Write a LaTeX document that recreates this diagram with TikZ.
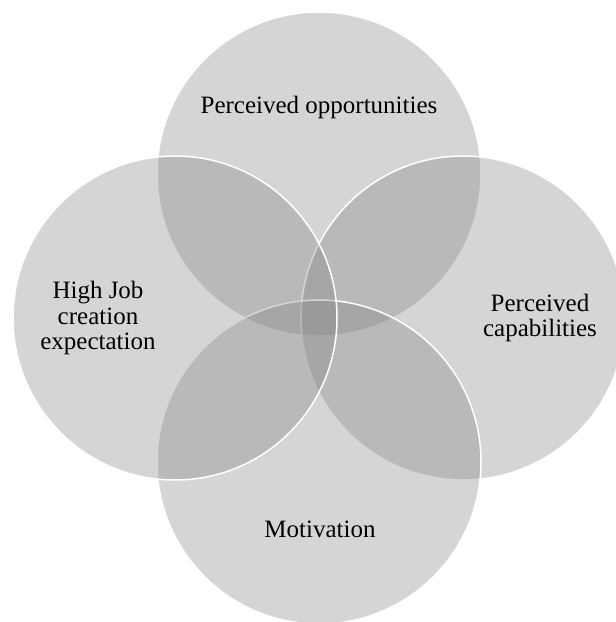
\documentclass[tikz,border=0pt]{standalone}
\usepackage{fontspec}
\setmainfont{Liberation Serif}

\begin{document}
\begin{tikzpicture}[x=1pt,y=-1pt,
 venn/.style={circle,minimum size=324pt,inner sep=0pt,fill=black!50,fill opacity=0.33,draw=white,draw opacity=1,line width=1.5pt},
 lbl/.style={align=center,font=\fontsize{25}{25.6}\selectfont,text=black}]
 \clip (0,0) rectangle (616,622); %描画範囲
 \node[venn] (OP) at (319,174) {}; %上の円
 \node[venn] (CA) at (463,318) {}; %右の円
 \node[venn] (MO) at (319,462) {}; %下の円
 \node[venn] (HJ) at (175,318) {}; %左の円
 \node[lbl] (opp) at (319,107) {Perceived opportunities};
 \node[lbl] (cap) at (540,318) {Perceived\\capabilities};
 \node[lbl] (job) at (98,318) {High Job\\creation\\expectation};
 \node[lbl] (mot) at (320,529) {Motivation};
\end{tikzpicture}
\end{document}
